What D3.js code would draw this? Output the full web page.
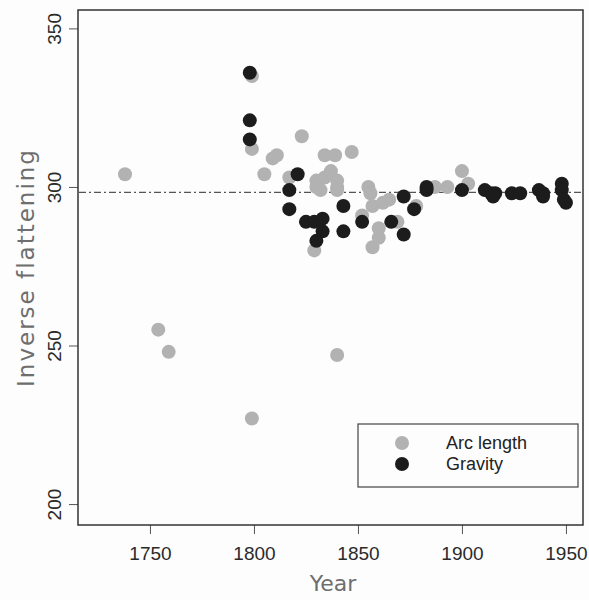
<!DOCTYPE html>
<html>
<script src="https://d3js.org/d3.v7.min.js"></script>
<style>
    body { margin: 0; background: #fdfdfd; }
    .tick text { font-family: "Liberation Sans", Arial, sans-serif; font-size: 19px; fill: #2a2a2a; }
    .tick line { stroke: #555; }
    .domain { display: none; }
</style>
<body></body>
<script>
    // Arc length measurements (year, inverse flattening)
    const arcYears = [1738, 1754, 1759, 1799, 1799, 1799, 1805, 1809, 1811, 1817, 1823, 1829, 1830, 1830, 1832, 1834, 1834,
        1837, 1839, 1840, 1840, 1840, 1840, 1847, 1852, 1855, 1856, 1857, 1857, 1860, 1860, 1862, 1865, 1869, 1878,
        1887, 1893, 1900, 1903];
    const arcValues = [304, 255, 248, 227, 312, 335, 304, 309, 310, 303, 316, 280, 302, 300, 299, 303, 310,
        305, 310, 300, 299, 247, 302, 311, 291, 300, 298, 294, 281, 287, 284, 295, 296, 289, 294,
        300, 300, 305, 301];
    // Gravity measurements
    const gravYears = [1798, 1798, 1798, 1817, 1817, 1821, 1825, 1829, 1830, 1833, 1833, 1843, 1843, 1852, 1866, 1872,
        1872, 1877, 1883, 1883, 1900, 1911, 1914, 1915, 1916, 1924, 1928, 1937, 1939, 1939, 1948, 1948, 1949, 1950];
    const gravValues = [336, 321, 315, 299, 293, 304, 289, 289, 283, 290, 286, 294, 286, 289, 289, 297,
        285, 293, 300, 299, 299, 299, 298, 297, 298, 298, 298, 299, 298, 297, 301, 299, 296, 295];
    const xTicks = [1750, 1800, 1850, 1900, 1950];
    const yTicks = [200, 250, 300, 350];
    const refValue = 298.26;

    const width = 589, height = 600;
    const mLeft = 78, mRight = 583, mTop = 10, mBottom = 525;
    const svg = d3.select("body").append("svg").attr("width", width).attr("height", height);

    const x = d3.scaleLinear().domain([1715.4, 1958.2]).range([mLeft, mRight]);
    const y = d3.scaleLinear().domain([193.4, 355.8]).range([mBottom, mTop]);

    svg.append("g")
        .attr("transform", `translate(0,${mBottom})`)
        .call(d3.axisBottom(x).tickValues(xTicks).tickFormat(d3.format("d")).tickSize(9).tickPadding(13));

    const yAxis = svg.append("g")
        .attr("transform", `translate(${mLeft},0)`)
        .call(d3.axisLeft(y).tickValues(yTicks).tickSize(9).tickPadding(0));
    yAxis.selectAll(".tick text")
        .attr("x", 0).attr("dy", 0)
        .attr("text-anchor", "middle")
        .attr("transform", "translate(-17,0) rotate(-90)");

    svg.append("rect")
        .attr("x", mLeft).attr("y", mTop)
        .attr("width", mRight - mLeft).attr("height", mBottom - mTop)
        .attr("fill", "none").attr("stroke", "#333").attr("stroke-width", 1.5);

    svg.append("line")
        .attr("x1", mLeft + 1).attr("x2", mRight - 1)
        .attr("y1", y(refValue)).attr("y2", y(refValue))
        .attr("stroke", "#555").attr("stroke-width", 1.2)
        .attr("stroke-dasharray", "7,3,2,3");

    svg.append("g").selectAll("circle")
        .data(d3.zip(arcYears, arcValues))
        .join("circle")
        .attr("cx", d => x(d[0])).attr("cy", d => y(d[1]))
        .attr("r", 7).attr("fill", "#b2b2b2");

    svg.append("g").selectAll("circle")
        .data(d3.zip(gravYears, gravValues))
        .join("circle")
        .attr("cx", d => x(d[0])).attr("cy", d => y(d[1]))
        .attr("r", 7).attr("fill", "#1c1c1c");

    // legend
    const legend = svg.append("g").attr("transform", "translate(358,424)");
    legend.append("rect")
        .attr("width", 220).attr("height", 63)
        .attr("fill", "#fdfdfd").attr("stroke", "#444").attr("stroke-width", 1.2);
    const items = [["Arc length", "#b2b2b2"], ["Gravity", "#1c1c1c"]];
    items.forEach((it, i) => {
        legend.append("circle").attr("cx", 44).attr("cy", 19 + i * 21).attr("r", 7).attr("fill", it[1]);
        legend.append("text")
            .attr("x", 88).attr("y", 25 + i * 21)
            .attr("font-family", "Liberation Sans, Arial, sans-serif")
            .attr("font-size", 18).attr("fill", "#222")
            .text(it[0]);
    });

    svg.append("text")
        .attr("x", 333).attr("y", 591)
        .attr("text-anchor", "middle")
        .attr("font-family", "DejaVu Sans, sans-serif")
        .attr("font-size", 22).attr("fill", "#6e6e6e")
        .text("Year");
    svg.append("text")
        .attr("transform", `translate(34,${(mTop + mBottom) / 2}) rotate(-90)`)
        .attr("text-anchor", "middle")
        .attr("font-family", "DejaVu Sans, sans-serif")
        .attr("font-size", 23).attr("fill", "#6e6e6e")
        .attr("letter-spacing", 2)
        .text("Inverse flattening");
</script>
</html>
